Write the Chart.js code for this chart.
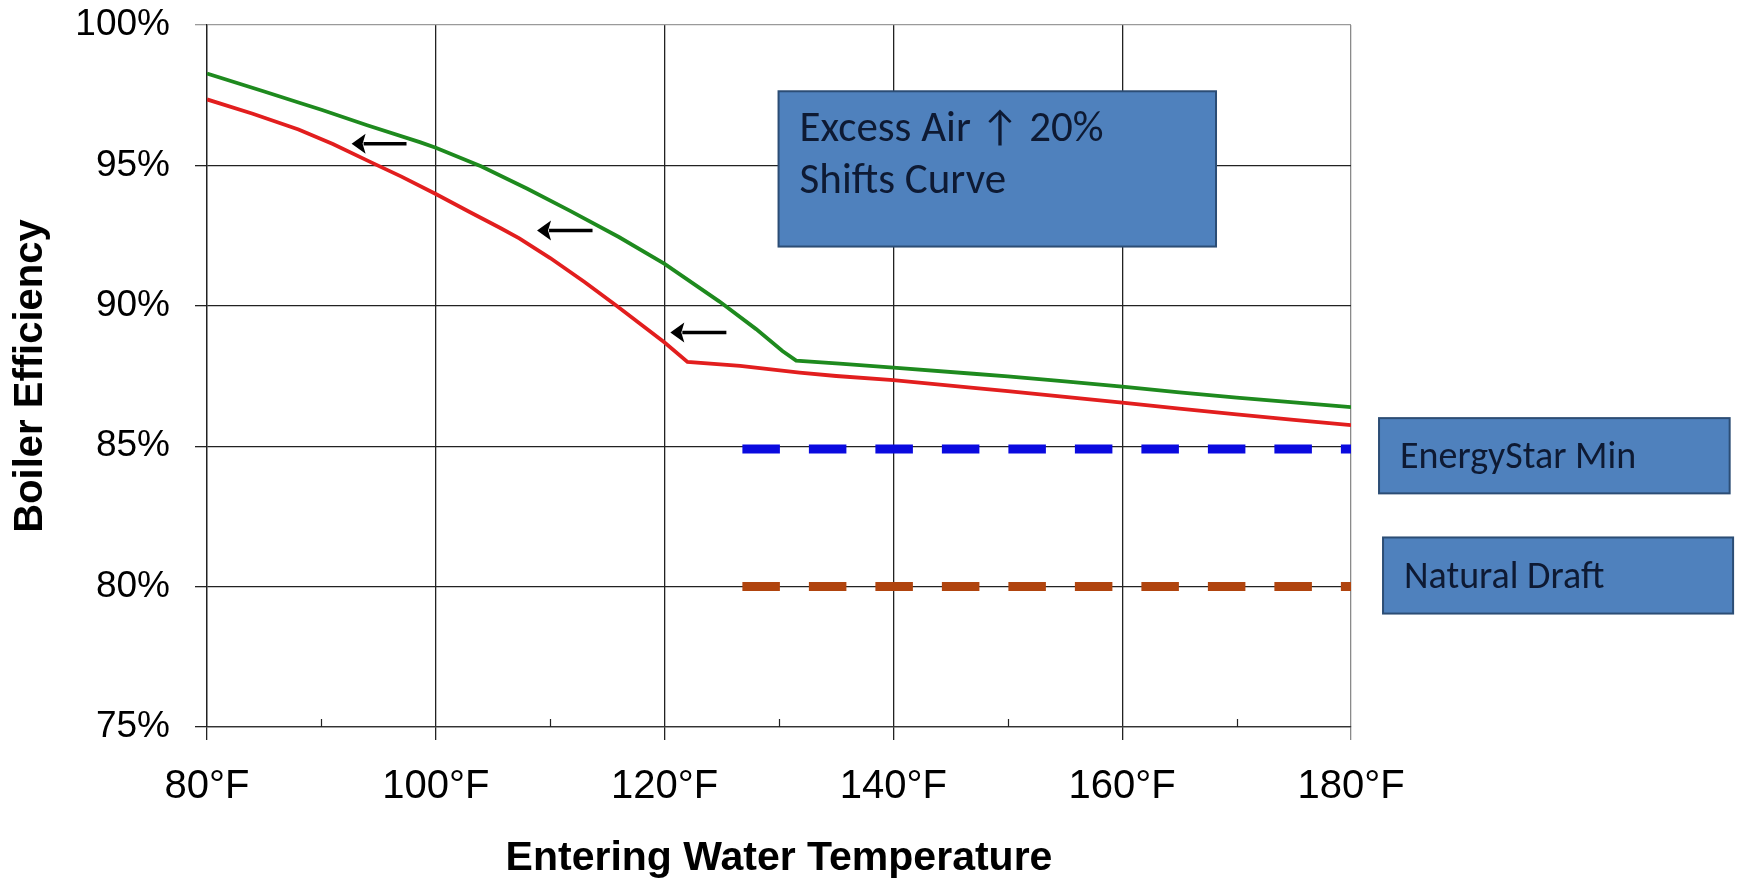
<!DOCTYPE html>
<html>
<head>
<meta charset="utf-8">
<title>Boiler Efficiency vs Entering Water Temperature</title>
<script src="https://cdn.jsdelivr.net/npm/chart.js@4/dist/chart.umd.min.js"></script>
<style>
  html, body { margin: 0; padding: 0; background: #ffffff; }
  canvas { display: block; }
</style>
</head>
<body>
<canvas id="chart" width="1739" height="879"></canvas>
<script>
// ---- Data -------------------------------------------------------------
// Condensing boiler efficiency curve at design excess air
const baseTemps = [80, 85, 88, 90, 94, 98.6, 100, 104, 108, 111.7, 116, 120, 124.8, 128, 130.3, 131.5, 135.3, 140, 147, 150, 155, 160, 165, 170, 175, 180];
const baseEff   = [98.27, 97.63, 97.24, 96.98, 96.43, 95.83, 95.63, 94.96, 94.17, 93.39, 92.45, 91.49, 90.15, 89.17, 88.39, 88.05, 87.94, 87.80, 87.58, 87.49, 87.31, 87.12, 86.92, 86.73, 86.56, 86.39];

// Same boiler with excess air raised 20%
const airTemps = [80, 84, 88, 91, 94.4, 97, 100, 103, 105.6, 107.3, 110, 113, 115.8, 118, 120, 122, 126.6, 131.8, 135, 140, 147, 150, 155, 160, 165, 170, 175, 180];
const airEff   = [97.35, 96.84, 96.28, 95.76, 95.10, 94.60, 93.98, 93.33, 92.78, 92.40, 91.70, 90.85, 90.00, 89.32, 88.69, 88.00, 87.86, 87.62, 87.50, 87.35, 87.08, 86.96, 86.76, 86.55, 86.34, 86.13, 85.94, 85.75];

// Reference efficiency levels, drawn across refRange (°F)
const energyStarMin = 84.9;
const naturalDraft  = 80;
const refRange      = [126.8, 180];

// Axis ticks
const tempTicks      = [80, 100, 120, 140, 160, 180];
const minorTempTicks = [90, 110, 130, 150, 170];
const effTicks       = [75, 80, 85, 90, 95, 100];

// ---- Annotations (placed in axis units) -------------------------------
const shiftArrows = [
  { tail: [97.44, 95.77], tip: [92.64, 95.77] },
  { tail: [113.7, 92.68], tip: [108.85, 92.68] },
  { tail: [125.4, 89.05], tip: [120.5, 89.05] }
];

const noteBoxes = [
  { lines: ['Excess Air \u2191 20%', 'Shifts Curve'], x: [129.96, 168.2], y: [97.64, 92.11], align: 'top', size: 43 },
  { lines: ['EnergyStar Min'], x: [182.45, 213.1], y: [86.0, 83.32], align: 'middle', size: 38 },
  { lines: ['Natural Draft'],  x: [182.8, 213.4],  y: [81.75, 79.04], align: 'middle', size: 38 }
];

const toPoints = (xs, ys) => xs.map((x, i) => ({ x, y: ys[i] }));
const flatLine = (level) => refRange.map(x => ({ x, y: level }));

// ---- Overlay: minor ticks, shift arrows, note boxes --------------------
const overlay = {
  id: 'overlay',
  afterDatasetsDraw(chart) {
    const { ctx, chartArea, scales: { x, y } } = chart;
    ctx.save();

    // minor ticks rising from the temperature axis
    ctx.strokeStyle = '#222';
    ctx.lineWidth = 1.2;
    minorTempTicks.forEach(v => {
      const px = Math.round(x.getPixelForValue(v)) + 0.5;
      ctx.beginPath();
      ctx.moveTo(px, chartArea.bottom);
      ctx.lineTo(px, chartArea.bottom - 8);
      ctx.stroke();
    });

    // arrows showing the leftward shift of the curve
    ctx.fillStyle = '#000';
    ctx.strokeStyle = '#000';
    ctx.lineWidth = 3.4;
    shiftArrows.forEach(a => {
      const tx = x.getPixelForValue(a.tail[0]);
      const hx = x.getPixelForValue(a.tip[0]);
      const py = y.getPixelForValue(a.tip[1]);
      const headLen = 14, headHalf = 10;
      ctx.beginPath();
      ctx.moveTo(tx, py);
      ctx.lineTo(hx + headLen - 2, py);
      ctx.stroke();
      ctx.beginPath();
      ctx.moveTo(hx, py);
      ctx.lineTo(hx + headLen, py - headHalf);
      ctx.lineTo(hx + headLen - 3, py);
      ctx.lineTo(hx + headLen, py + headHalf);
      ctx.closePath();
      ctx.fill();
    });

    // note boxes
    noteBoxes.forEach(b => {
      const left = x.getPixelForValue(b.x[0]);
      const right = x.getPixelForValue(b.x[1]);
      const top = y.getPixelForValue(b.y[0]);
      const bottom = y.getPixelForValue(b.y[1]);
      ctx.fillStyle = '#4F81BD';
      ctx.fillRect(left, top, right - left, bottom - top);
      ctx.strokeStyle = '#2C4D75';
      ctx.lineWidth = 2;
      ctx.strokeRect(left, top, right - left, bottom - top);

      ctx.fillStyle = '#0E1A33';
      ctx.font = b.size + 'px Carlito, Calibri, Lato, "Open Sans", sans-serif';
      ctx.textAlign = 'left';
      ctx.textBaseline = 'alphabetic';
      const textX = left + 21;
      if (b.align === 'top') {
        b.lines.forEach((t, i) => ctx.fillText(t, textX, top + 50 + i * 52));
      } else {
        const mid = (top + bottom) / 2;
        ctx.fillText(b.lines[0], textX, mid + 12.5);
      }
    });

    ctx.restore();
  }
};

// ---- Chart ---------------------------------------------------------------
const gridDark = '#222222';

new Chart(document.getElementById('chart'), {
  type: 'line',
  data: {
    datasets: [
      {
        label: 'EnergyStar Min',
        data: flatLine(energyStarMin),
        borderColor: '#0A0ADF',
        borderWidth: 9,
        borderDash: [37.5, 29],
        borderCapStyle: 'butt',
        pointRadius: 0,
        tension: 0
      },
      {
        label: 'Natural Draft',
        data: flatLine(naturalDraft),
        borderColor: '#B0440E',
        borderWidth: 9,
        borderDash: [37.5, 29],
        borderCapStyle: 'butt',
        pointRadius: 0,
        tension: 0
      },
      {
        label: 'Design Excess Air',
        data: toPoints(baseTemps, baseEff),
        borderColor: '#1E8A1E',
        borderWidth: 3.8,
        pointRadius: 0,
        tension: 0
      },
      {
        label: 'Excess Air +20%',
        data: toPoints(airTemps, airEff),
        borderColor: '#E21E1E',
        borderWidth: 3.8,
        pointRadius: 0,
        tension: 0
      }
    ]
  },
  options: {
    responsive: false,
    animation: false,
    devicePixelRatio: 1,
    layout: { padding: { top: 25, right: 388, bottom: 0, left: 0 } },
    plugins: {
      legend: { display: false },
      tooltip: { enabled: false }
    },
    scales: {
      x: {
        type: 'linear',
        min: 80,
        max: 180,
        afterBuildTicks: s => { s.ticks = tempTicks.map(value => ({ value })); },
        afterFit: s => { s.height = 152; },
        grid: {
          color: ctx => (ctx.tick && ctx.tick.value === 180) ? '#8a8a8a' : gridDark,
          lineWidth: 1.3,
          tickLength: 13,
          drawTicks: true
        },
        border: { display: true, color: '#333333', width: 1.3 },
        ticks: {
          color: '#000',
          font: { family: '"Liberation Sans", Arial, sans-serif', size: 40 },
          padding: 23,
          maxRotation: 0,
          callback: v => v + '\u00B0F'
        },
        title: {
          display: true,
          text: 'Entering Water Temperature',
          color: '#000',
          font: { family: '"Liberation Sans", Arial, sans-serif', size: 41, weight: 'bold', lineHeight: 1.1 },
          padding: { top: 0, bottom: -2 }
        }
      },
      y: {
        min: 75,
        max: 100,
        afterBuildTicks: s => { s.ticks = effTicks.map(value => ({ value })); },
        afterFit: s => { s.width = 207; s.paddingTop = 0; s.paddingBottom = 0; },
        grid: {
          color: ctx => (ctx.tick && ctx.tick.value === 100) ? '#9a9a9a' : gridDark,
          lineWidth: 1.3,
          tickLength: 12,
          drawTicks: true
        },
        border: { display: true, color: gridDark, width: 1.3 },
        ticks: {
          color: '#000',
          font: { family: '"Liberation Sans", Arial, sans-serif', size: 37 },
          padding: 25,
          callback: v => v + '%'
        },
        title: {
          display: true,
          text: 'Boiler Efficiency',
          color: '#000',
          font: { family: '"Liberation Sans", Arial, sans-serif', size: 40, weight: 'bold', lineHeight: 1.2 },
          padding: { top: 7, bottom: 0 }
        }
      }
    }
  },
  plugins: [overlay]
});
</script>
</body>
</html>
